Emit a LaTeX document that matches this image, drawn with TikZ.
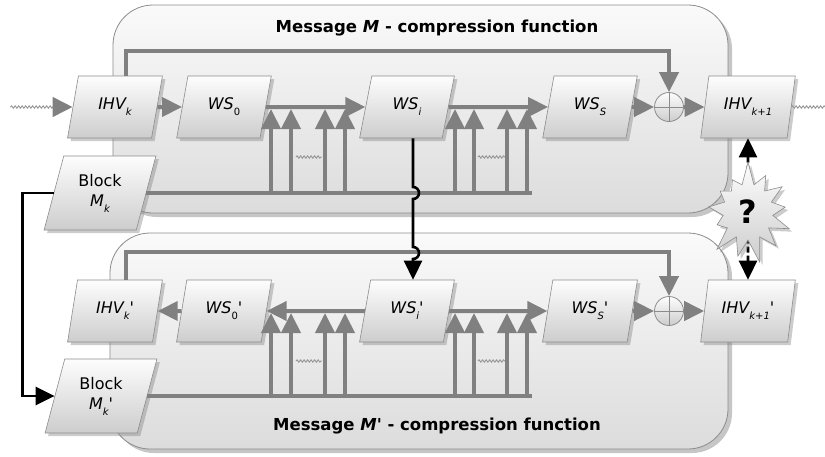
\documentclass[tikz,border=0pt]{standalone}
\usepackage{fontspec}
\setmainfont{DejaVu Sans}
\usetikzlibrary{arrows.meta,calc,shapes.geometric,shapes.symbols,shadows,decorations.pathmorphing}

\definecolor{linegray}{RGB}{128,128,128}
\definecolor{rimgray}{RGB}{140,140,140}
\definecolor{boxtop}{RGB}{250,250,250}
\definecolor{boxbot}{RGB}{220,220,220}
\definecolor{celltop}{RGB}{253,253,253}
\definecolor{cellbot}{RGB}{205,205,205}
\definecolor{wavegray}{RGB}{150,150,150}

\newcommand\lo[1]{\raisebox{-6pt}{\fontsize{10}{10}\selectfont #1}}
\newcommand\pr{\textquotesingle}

\begin{document}
\begin{tikzpicture}[x=1pt, y=-1pt,
  frame/.style={draw=rimgray, line width=0.8pt, rounded corners=40pt, top color=boxtop, bottom color=boxbot,
    drop shadow={opacity=0.45, shadow xshift=4pt, shadow yshift=-4pt}},
  cell/.style={trapezium, trapezium left angle=75, trapezium right angle=105, trapezium stretches=true,
    minimum width=95pt, minimum height=62pt, inner sep=1pt, draw=rimgray, line width=0.6pt,
    top color=celltop, bottom color=cellbot, drop shadow={opacity=0.4, shadow xshift=3pt, shadow yshift=-3pt},
    font=\fontsize{16}{20}\selectfont\itshape},
  blockcell/.style={cell, trapezium left angle=73, trapezium right angle=107, minimum width=112pt,
    minimum height=74pt, align=center, font=\fontsize{16}{20}\selectfont},
  xorcell/.style={circle, minimum size=29pt, inner sep=0pt, draw=rimgray, line width=0.8pt,
    top color=celltop, bottom color=cellbot},
  qstar/.style={starburst, starburst points=13, starburst point height=24pt, random starburst=7,
    minimum width=98pt, minimum height=104pt, inner sep=0pt, draw=rimgray, line width=0.6pt,
    top color=celltop, bottom color=cellbot, drop shadow={opacity=0.4, shadow xshift=3pt, shadow yshift=-3pt},
    font=\fontsize{32}{32}\selectfont\bfseries},
  garrow/.style={draw=linegray, line width=4pt, -{Triangle[length=20pt,width=19pt]}},
  gline/.style={draw=linegray, line width=4pt},
  blk/.style={line width=2.6pt, -{Triangle[length=19pt,width=18pt]}},
  wave/.style={wavegray, line width=0.9pt, decorate, decoration={snake, amplitude=1.2pt, segment length=3.5pt}},
  title/.style={font=\fontsize{16.5}{20}\selectfont\bfseries},
]
\useasboundingbox (0,0) rectangle (825,456);

% === COMPRESSION FUNCTION FRAMES ===
\path[frame] (113,5) rectangle (728,213);
\path[frame] (110,233) rectangle (728,449);
\node[title] (ttop) at (437,28) {Message \textit{M} - compression function};
\node[title] (tbot) at (437,426) {Message \textit{M\pr} - compression function};

% === MESSAGE M (top) ===
\node[cell] (IHVk) at (115,107) {IHV\lo{k}};
\node[cell] (WS0) at (224,107) {WS\lo{\upshape 0}};
\node[cell] (WSi) at (407,107) {WS\lo{i}};
\node[cell] (WSS) at (590,107) {WS\lo{S}};
\node[xorcell] (opl) at (669,107) {};
\node[cell] (IHVk1) at (748,107) {IHV\lo{k+1}};
\node[blockcell] (Bk) at (100,193) {Block\\\textit{M}\lo{\itshape k}};

\coordinate (inL) at (60,107);
\draw[wave] (inL) -- ++(-50,0);
\draw[wave] (IHVk1.right side) -- ++(35,0);
\draw[garrow] (inL) -- (IHVk);

\coordinate (busT) at (532,193);
\draw[gline] (Bk.right side) -- (busT);
\foreach \x in {271,291,325,345,455,474,507,527} {
  \coordinate (a\x) at (\x,193);
  \coordinate (z\x) at (\x,109);
  \draw[garrow] (a\x) -- (z\x);
}
\draw[wave] (296,157) -- (322,157);
\draw[wave] (478,157) -- (505,157);

\draw[garrow] (IHVk) -- (WS0);
\draw[garrow] (WS0) -- (WSi);
\draw[garrow] (WSi) -- (WSS);
\draw[garrow] (WSS) -- (opl);
\draw[garrow] (opl) -- (IHVk1);
\draw[garrow] ([xshift=11pt]IHVk.north) -- ++(0,-25) -| (opl);
\draw[rimgray, line width=0.8pt] (opl.north) -- (opl.south) (opl.west) -- (opl.east);

% === MESSAGE M' (bottom) ===
\node[cell] (IHVkp) at (115,311) {IHV\lo{k}\pr};
\node[cell] (WS0p) at (224,311) {WS\lo{\upshape 0}\pr};
\node[cell] (WSip) at (407,311) {WS\lo{i}\pr};
\node[cell] (WSSp) at (590,311) {WS\lo{S}\pr};
\node[xorcell] (oplp) at (669,311) {};
\node[cell] (IHVk1p) at (748,311) {IHV\lo{k+1}\pr};
\node[blockcell] (Bkp) at (101,396) {Block\\\textit{M}\lo{\itshape k}\textit{\pr}};

\coordinate (busB) at (532,396);
\draw[gline] (Bkp.right side) -- (busB);
\foreach \x in {271,291,325,345,455,474,507,527} {
  \coordinate (c\x) at (\x,396);
  \coordinate (d\x) at (\x,313);
  \draw[garrow] (c\x) -- (d\x);
}
\draw[wave] (296,361) -- (322,361);
\draw[wave] (478,361) -- (505,361);

\draw[garrow] (WS0p) -- (IHVkp);
\draw[garrow] (WSip) -- (WS0p);
\draw[garrow] (WSip) -- (WSSp);
\draw[garrow] (WSSp) -- (oplp);
\draw[garrow] (oplp) -- (IHVk1p);
\draw[garrow] ([xshift=11pt]IHVkp.north) -- ++(0,-28) -| (oplp);
\draw[rimgray, line width=0.8pt] (oplp.north) -- (oplp.south) (oplp.west) -- (oplp.east);

% === LINKS BETWEEN M AND M' ===
\coordinate (j1) at (413,193);
\coordinate (j2) at (413,253);
\draw[blk] ([xshift=6pt]WSi.south) -- ($(j1)+(0,-6)$) arc[start angle=-90, end angle=90, radius=6]
  -- ($(j2)+(0,-6)$) arc[start angle=-90, end angle=90, radius=6] -- ([xshift=6pt]WSip.north);
\draw[blk] (Bk.left side) -- ++(-31,0) |- (Bkp.left side);
\draw[blk, dash pattern=on 6pt off 3pt, {Triangle[length=19pt,width=18pt]}-{Triangle[length=19pt,width=18pt]}]
  (IHVk1) -- (IHVk1p);
\node[qstar] (qs) at (748,212) {?};
\end{tikzpicture}
\end{document}
